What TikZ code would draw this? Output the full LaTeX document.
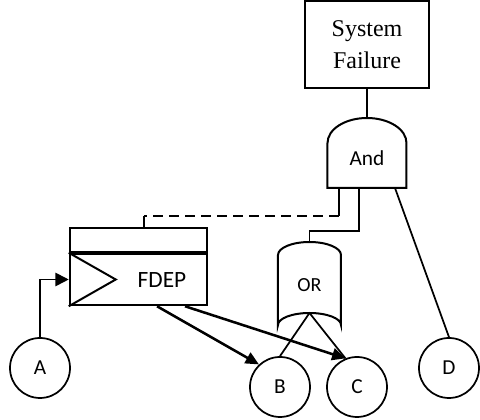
\documentclass[tikz,border=0pt]{standalone}
\usepackage{fontspec}
\setmainfont{Liberation Serif}
\newfontfamily\gatefont{Carlito}
\usetikzlibrary{arrows.meta}

\begin{document}
\begin{tikzpicture}[
   x=0.75pt,y=-0.75pt,
   every node/.style={font=\gatefont\fontsize{16}{18}\selectfont},
   event/.style={draw,line width=1.2pt,rectangle,minimum width=93pt,minimum height=65.25pt,inner sep=0pt,align=center,font=\fontsize{18}{24}\selectfont},
   basic/.style={draw,line width=1.3pt,circle,minimum size=45pt,inner sep=0pt},
   fdepbox/.style={draw,line width=1.9pt,rectangle,minimum width=102.75pt,minimum height=38.25pt,inner sep=0pt},
   fdeptop/.style={draw,line width=1.3pt,rectangle,minimum width=102.75pt,minimum height=18pt,inner sep=0pt,anchor=south},
   gate/.style={line width=1.5pt},
   wire/.style={line width=1.3pt},
   dep/.style={-{Triangle[length=10pt,width=9pt]},line width=1.9pt},
   trig/.style={-{Triangle[length=10pt,width=10pt]},line width=1.3pt}]
\useasboundingbox (0,0) rectangle (480,420);
\node[event] (sys) at (367,44.5) {System\\Failure};
\draw[gate] (327.5,188) -- (327.5,143) arc[start angle=180,end angle=0,x radius=29.625pt,y radius=18.75pt] -- (406.5,188) -- cycle;
\node (and) at (367,158) {And};
\coordinate (and-top) at (367,118);
\coordinate (and-in1) at (339,188);
\coordinate (and-in2) at (359,188);
\coordinate (and-in3) at (395,188);
\draw[gate] (278,325) -- (278,255) arc[start angle=180,end angle=0,x radius=23.625pt,y radius=9.75pt] -- (341,325) arc[start angle=0,end angle=180,x radius=23.625pt,y radius=9pt] -- cycle;
\node[font=\gatefont\fontsize{15}{18}\selectfont] (or) at (309.5,285) {OR};
\coordinate (or-top) at (309.5,242);
\coordinate (or-out) at (309.5,313);
\node[fdepbox] (fdep) at (138.5,279.5) {};
\node[fdeptop] (fdephead) at (fdep.north) {};
\draw[gate] (fdep.north west) -- ([xshift=35.25pt]fdep.west) -- (fdep.south west);
\node[font=\gatefont\fontsize{17.5}{20}\selectfont] (fdeplbl) at (162,280) {FDEP};
\node[basic] (A) at (40,368) {A};
\node[basic] (B) at (280,387) {B};
\node[basic] (C) at (357,387) {C};
\node[basic] (D) at (449,368) {D};
\coordinate (dep-r) at (339,216);
\coordinate (dep-l) at (144,216);
\draw[wire] (sys.south) -- (and-top);
\draw[wire] (and-in1) -- (dep-r);
\draw[wire,dash pattern=on 7.5pt off 4.5pt] (dep-r) -- (dep-l);
\draw[wire] (dep-l) -- (dep-l |- fdephead.north);
\draw[wire] (and-in2) -- ++(0,43) -| (or-top);
\draw[wire] (and-in3) -- (D.north);
\draw[trig] (A.north) |- (fdep.west);
\draw[wire] (or-out) -- (B.north);
\draw[wire] (or-out) -- (C.112);
\draw[dep] ([xshift=13.9pt]fdep.south) -- (B.133);
\draw[dep] ([xshift=34.9pt]fdep.south) -- (C.112);
\end{tikzpicture}
\end{document}
